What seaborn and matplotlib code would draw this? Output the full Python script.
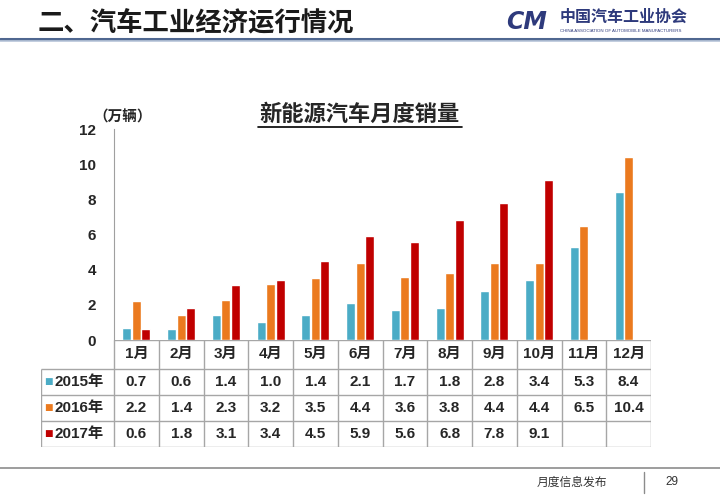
import numpy as np
import pandas as pd
import seaborn as sns
import matplotlib.pyplot as plt
from matplotlib.lines import Line2D

months = ["1月", "2月", "3月", "4月", "5月", "6月", "7月", "8月", "9月", "10月", "11月", "12月"]
years = ["2015年", "2016年", "2017年"]
sales_2015 = [0.7, 0.6, 1.4, 1.0, 1.4, 2.1, 1.7, 1.8, 2.8, 3.4, 5.3, 8.4]
sales_2016 = [2.2, 1.4, 2.3, 3.2, 3.5, 4.4, 3.6, 3.8, 4.4, 4.4, 6.5, 10.4]
sales_2017 = [0.6, 1.8, 3.1, 3.4, 4.5, 5.9, 5.6, 6.8, 7.8, 9.1, None, None]
colors = ["#4bacc6", "#eb7a1f", "#c00000"]

series = [sales_2015, sales_2016, sales_2017]
rows = []
for y, vals in zip(years, series):
    for m, v in zip(months, vals):
        rows.append({"month": m, "year": y, "sales": v})
df = pd.DataFrame(rows)
df_bars = df.dropna(subset=["sales"])

sns.set_style("white")
plt.rcParams["font.family"] = ["Liberation Sans", "Noto Sans CJK SC", "DejaVu Sans"]
plt.rcParams["font.weight"] = "bold"

fig = plt.figure(figsize=(7.2, 4.98), dpi=100)
W, H = 720, 498
X0, X1 = 114, 651  # plot / table column area

def fx(px):
    return px / W

def fy(py):
    return 1 - py / H

# bar chart
ax = fig.add_axes([fx(X0), fy(340), fx(X1) - fx(X0), fy(129) - fy(340)])
sns.barplot(data=df_bars, x="month", y="sales", hue="year", order=months,
            hue_order=years, palette=colors, width=0.64, gap=0.05,
            errorbar=None, ax=ax, legend=False, saturation=1)
ax.set_xlim(-0.5, 11.5)
ax.set_ylim(0, 12)
ax.set_yticks(range(0, 13, 2))
ax.set_yticklabels([str(t) for t in range(0, 13, 2)], fontsize=11, fontweight="bold")
ax.tick_params(axis="y", direction="in", length=4, color="#a0a0a0", pad=13)
ax.tick_params(axis="x", length=0, labelbottom=False)
ax.set_xlabel("")
ax.set_ylabel("")
for s in ["top", "right", "bottom"]:
    ax.spines[s].set_visible(False)
ax.spines["left"].set_color("#a0a0a0")
ax.patch.set_alpha(0)

# data table
tab = fig.add_axes([fx(41), fy(447), fx(X1) - fx(41), fy(340) - fy(447)])
x_left = -0.5 - (X0 - 41) / ((X1 - X0) / 12)
tab.set_xlim(x_left, 11.5)
tab.set_ylim(4.1, 0)
tab.axis("off")
gc = "#a6a6a6"
tab.hlines(0, -0.5, 11.5, color=gc, lw=1)
for yy in [1.1, 2.1, 3.1, 4.1]:
    tab.hlines(yy, x_left, 11.5, color=gc, lw=1)
for xx in np.arange(-0.5, 12.0, 1.0):
    tab.vlines(xx, 0, 4.1, color=gc, lw=1)
tab.vlines(x_left, 1.1, 4.1, color=gc, lw=1)
for i, m in enumerate(months):
    tab.text(i, 0.55, m, ha="center", va="center", fontsize=11, fontweight="bold")
for r, (y, vals, c) in enumerate(zip(years, series, colors)):
    yc = 1.6 + r
    tab.text(x_left + 0.08, yc, "■", color=c, ha="left", va="center", fontsize=6.5,
             family="DejaVu Sans")
    tab.text(x_left + 0.3, yc, y, ha="left", va="center", fontsize=11, fontweight="bold")
    for i, v in enumerate(vals):
        if v is not None:
            tab.text(i, yc, f"{v:.1f}", ha="center", va="center", fontsize=11,
                     fontweight="bold")

# titles and slide decoration
fig.text(fx(360), fy(114), "新能源汽车月度销量", ha="center", va="center",
         fontsize=16, fontweight="bold", family="Noto Sans CJK SC")
fig.add_artist(Line2D([fx(258), fx(462)], [fy(127), fy(127)], color="black", lw=1.2))
fig.text(fx(93), fy(117), "（万辆）", ha="left", va="center", fontsize=10.5,
         fontweight="bold", family="Noto Sans CJK SC")

fig.text(fx(38), fy(24), "二、汽车工业经济运行情况", ha="left", va="center",
         fontsize=19, fontweight="bold", family="Noto Sans CJK SC", color="#1a1a1a")
fig.add_artist(Line2D([0, 1], [fy(39), fy(39)], color="#4f6790", lw=2.2))
fig.add_artist(Line2D([0, 1], [fy(41.5), fy(41.5)], color="#b9c6da", lw=1.2))
fig.text(fx(506), fy(22), "CM", ha="left", va="center", fontsize=17, fontweight="bold",
         style="italic", color="#2e3a7c", family="DejaVu Sans")
fig.text(fx(560), fy(17), "中国汽车工业协会", ha="left", va="center", fontsize=11.5,
         fontweight="bold", color="#2e3a7c", family="Noto Sans CJK SC")
fig.text(fx(560), fy(31), "CHINA ASSOCIATION OF AUTOMOBILE MANUFACTURERS", ha="left",
         va="center", fontsize=3.2, color="#2e3a7c", fontweight="normal")

fig.add_artist(Line2D([0, 1], [fy(468), fy(468)], color="#8c8c8c", lw=1.2))
fig.add_artist(Line2D([fx(644), fx(644)], [fy(472), fy(493)], color="#8c8c8c", lw=1))
fig.text(fx(572), fy(482), "月度信息发布", ha="center", va="center", fontsize=8.5,
         fontweight="normal", color="#333333", family="Noto Sans CJK SC")
fig.text(fx(672), fy(482), "29", ha="center", va="center", fontsize=8.5,
         fontweight="normal", color="#333333")

fig.savefig("out.png", dpi=100)
